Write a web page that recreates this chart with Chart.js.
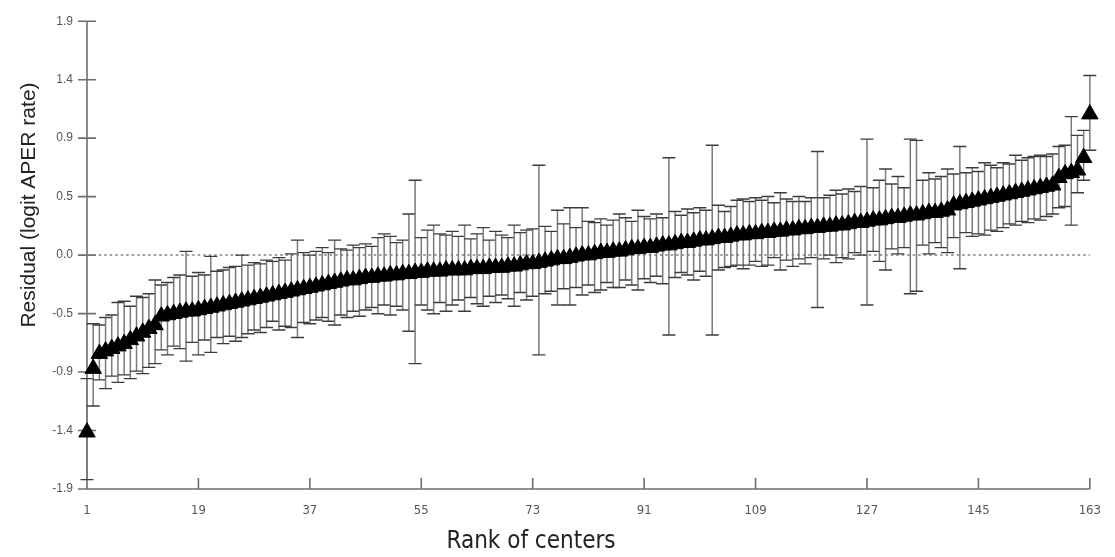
<!DOCTYPE html>
<html>
<head>
<meta charset="utf-8">
<script src="https://cdn.jsdelivr.net/npm/chart.js@4"></script>
<style>
  html, body { margin: 0; padding: 0; background: #fff; }
  #chart { display: block; }
</style>
</head>
<body>
<canvas id="chart" width="1115" height="557"></canvas>
<script>
// residuals of the 163 centers, sorted, with their interval ends
const residual = [
  -1.42, -0.91, -0.79, -0.77, -0.75, -0.73, -0.71, -0.68, -0.65, -0.62,
  -0.59, -0.56, -0.49, -0.48, -0.47, -0.46, -0.45, -0.45, -0.44, -0.43,
  -0.42, -0.41, -0.40, -0.39, -0.38, -0.37, -0.36, -0.35, -0.34, -0.33,
  -0.32, -0.31, -0.30, -0.29, -0.28, -0.27, -0.26, -0.25, -0.24, -0.23,
  -0.22, -0.21, -0.20, -0.20, -0.19, -0.18, -0.18, -0.17, -0.17, -0.16,
  -0.16, -0.15, -0.15, -0.14, -0.14, -0.13, -0.13, -0.13, -0.12, -0.12,
  -0.12, -0.12, -0.11, -0.11, -0.11, -0.10, -0.10, -0.10, -0.09, -0.09,
  -0.08, -0.07, -0.07, -0.06, -0.05, -0.04, -0.03, -0.03, -0.02, -0.01,
  0.00, 0.00, 0.01, 0.02, 0.02, 0.03, 0.03, 0.04, 0.05, 0.05,
  0.06, 0.06, 0.07, 0.08, 0.08, 0.09, 0.10, 0.10, 0.11, 0.12,
  0.12, 0.13, 0.14, 0.14, 0.15, 0.16, 0.16, 0.17, 0.17, 0.18,
  0.18, 0.19, 0.19, 0.20, 0.20, 0.21, 0.21, 0.22, 0.22, 0.23,
  0.23, 0.24, 0.24, 0.25, 0.26, 0.26, 0.27, 0.28, 0.28, 0.29,
  0.30, 0.30, 0.31, 0.32, 0.32, 0.33, 0.34, 0.34, 0.35, 0.36,
  0.40, 0.41, 0.42, 0.43, 0.44, 0.45, 0.46, 0.47, 0.48, 0.49,
  0.50, 0.51, 0.52, 0.53, 0.54, 0.55, 0.56, 0.62, 0.65, 0.66,
  0.68, 0.78, 1.13
];

const lowerCI = [
  -1.80, -1.21, -1.00, -1.07, -0.97, -1.02, -0.96, -0.99, -0.93, -0.95,
  -0.90, -0.87, -0.76, -0.80, -0.73, -0.75, -0.85, -0.70, -0.80, -0.68,
  -0.78, -0.66, -0.71, -0.65, -0.69, -0.66, -0.63, -0.60, -0.62, -0.58,
  -0.53, -0.60, -0.57, -0.58, -0.66, -0.54, -0.55, -0.52, -0.50, -0.53,
  -0.56, -0.48, -0.50, -0.45, -0.49, -0.44, -0.42, -0.47, -0.40, -0.48,
  -0.41, -0.44, -0.61, -0.87, -0.40, -0.44, -0.47, -0.38, -0.45, -0.40,
  -0.36, -0.45, -0.34, -0.39, -0.41, -0.33, -0.38, -0.32, -0.35, -0.41,
  -0.30, -0.36, -0.33, -0.80, -0.31, -0.29, -0.40, -0.27, -0.40, -0.26,
  -0.32, -0.24, -0.30, -0.28, -0.22, -0.26, -0.26, -0.20, -0.24, -0.28,
  -0.19, -0.22, -0.17, -0.23, -0.64, -0.18, -0.14, -0.16, -0.20, -0.13,
  -0.17, -0.64, -0.12, -0.10, -0.09, -0.08, -0.11, -0.08, -0.05, -0.09,
  -0.08, -0.02, -0.12, -0.04, -0.09, -0.03, -0.07, -0.02, -0.42, -0.03,
  0.00, -0.06, -0.02, -0.03, 0.02, 0.00, -0.40, 0.03, -0.05, -0.12,
  0.05, 0.01, 0.06, -0.31, -0.29, 0.08, 0.01, 0.10, 0.06, 0.02,
  0.14, -0.11, 0.18, 0.15, 0.17, 0.16, 0.20, 0.19, 0.22, 0.25,
  0.24, 0.27, 0.26, 0.29, 0.28, 0.31, 0.33, 0.38, 0.39, 0.24,
  0.50, 0.60, 0.84
];

const upperCI = [
  -0.99, -0.55, -0.56, -0.50, -0.48, -0.38, -0.37, -0.41, -0.33, -0.34,
  -0.31, -0.20, -0.24, -0.22, -0.18, -0.16, 0.03, -0.17, -0.14, -0.16,
  -0.01, -0.13, -0.12, -0.10, -0.09, 0.00, -0.08, -0.06, -0.07, -0.04,
  -0.05, -0.02, -0.04, 0.01, 0.12, 0.02, 0.00, 0.03, 0.06, 0.02,
  0.12, 0.05, 0.04, 0.08, 0.06, 0.09, 0.07, 0.14, 0.17, 0.15,
  0.10, 0.12, 0.33, 0.60, 0.14, 0.20, 0.24, 0.17, 0.16, 0.19,
  0.15, 0.24, 0.13, 0.17, 0.22, 0.12, 0.19, 0.16, 0.14, 0.24,
  0.18, 0.20, 0.21, 0.72, 0.23, 0.19, 0.36, 0.25, 0.38, 0.22,
  0.38, 0.27, 0.26, 0.29, 0.24, 0.28, 0.33, 0.30, 0.27, 0.36,
  0.31, 0.29, 0.33, 0.30, 0.78, 0.35, 0.32, 0.37, 0.34, 0.38,
  0.36, 0.88, 0.40, 0.35, 0.39, 0.44, 0.45, 0.43, 0.46, 0.44,
  0.47, 0.42, 0.50, 0.45, 0.43, 0.47, 0.43, 0.46, 0.83, 0.46,
  0.48, 0.52, 0.49, 0.53, 0.51, 0.55, 0.93, 0.54, 0.60, 0.69,
  0.57, 0.63, 0.54, 0.93, 0.92, 0.60, 0.66, 0.61, 0.63, 0.69,
  0.65, 0.87, 0.66, 0.70, 0.67, 0.74, 0.72, 0.70, 0.74, 0.73,
  0.80, 0.76, 0.78, 0.79, 0.80, 0.79, 0.81, 0.87, 0.88, 1.11,
  0.96, 1.00, 1.44
];

const ranks = residual.map((_, i) => i + 1);

const xTicks = [1, 19, 37, 55, 73, 91, 109, 127, 145, 163];
const yTickValues = [-1.875, -1.40625, -0.9375, -0.46875, 0, 0.46875, 0.9375, 1.40625, 1.875];
const yTickLabels = ['-1.9', '-1.4', '-0.9', '-0.5', '0.0', '0.5', '0.9', '1.4', '1.9'];

const xTitle = 'Rank of centers';
const yTitle = 'Residual (logit APER rate)';

const AXIS = '#6e6e6e';
const NARROW = '"Liberation Sans Narrow", "DejaVu Sans Condensed", "Roboto Condensed", sans-serif';
const SANS = '"Liberation Sans", Arial, sans-serif';

const plotDecor = {
  id: 'plotDecor',
  beforeDatasetsDraw(chart) {
    const { ctx, chartArea: a, scales: { x, y } } = chart;
    ctx.save();

    // axis lines
    ctx.strokeStyle = AXIS;
    ctx.lineWidth = 1.6;
    ctx.beginPath();
    ctx.moveTo(a.left, a.top);
    ctx.lineTo(a.left, a.bottom);
    ctx.moveTo(a.left - 7, a.bottom);
    ctx.lineTo(a.right, a.bottom);
    // y ticks cross the axis, x ticks point up
    yTickValues.forEach(v => {
      const py = y.getPixelForValue(v);
      ctx.moveTo(a.left - 9, py);
      ctx.lineTo(a.left + 9, py);
    });
    xTicks.forEach(v => {
      const px = x.getPixelForValue(v);
      ctx.moveTo(px, a.bottom);
      ctx.lineTo(px, a.bottom - 11);
    });
    ctx.stroke();

    // dotted reference line at zero
    const y0 = y.getPixelForValue(0);
    ctx.strokeStyle = '#808080';
    ctx.lineWidth = 1.5;
    ctx.setLineDash([2.5, 3]);
    ctx.beginPath();
    ctx.moveTo(x.getPixelForValue(2), y0);
    ctx.lineTo(x.getPixelForValue(163), y0);
    ctx.stroke();
    ctx.setLineDash([]);

    // error bars
    ranks.forEach((r, i) => {
      const px = x.getPixelForValue(r);
      const lo = y.getPixelForValue(lowerCI[i]);
      const hi = y.getPixelForValue(upperCI[i]);
      ctx.strokeStyle = '#7a7a7a';
      ctx.lineWidth = 1.5;
      ctx.beginPath();
      ctx.moveTo(px, lo);
      ctx.lineTo(px, hi);
      ctx.stroke();
      ctx.strokeStyle = '#3c3c3c';
      ctx.lineWidth = 1.4;
      ctx.beginPath();
      ctx.moveTo(px - 6.5, lo);
      ctx.lineTo(px + 6.5, lo);
      ctx.moveTo(px - 6.5, hi);
      ctx.lineTo(px + 6.5, hi);
      ctx.stroke();
    });
    ctx.restore();
  },
  afterDraw(chart) {
    const { ctx } = chart;
    ctx.save();
    ctx.fillStyle = '#222';
    ctx.textAlign = 'center';
    ctx.textBaseline = 'middle';
    ctx.font = '24px ' + NARROW;
    ctx.fillText(xTitle, 531, 542);

    ctx.translate(29, 205);
    ctx.rotate(-Math.PI / 2);
    ctx.font = '21px ' + SANS;
    ctx.fillText(yTitle, 0, 0);
    ctx.restore();
  }
};

new Chart(document.getElementById('chart'), {
  type: 'scatter',
  data: {
    datasets: [{
      label: 'Residual',
      data: ranks.map((r, i) => ({ x: r, y: residual[i] })),
      clip: false,
      pointStyle: 'triangle',
      pointRadius: 9.5,
      pointHoverRadius: 9.5,
      backgroundColor: '#000',
      borderColor: '#000',
      borderWidth: 1
    }]
  },
  options: {
    responsive: false,
    devicePixelRatio: 1,
    animation: false,
    layout: { padding: { top: 14, right: 20, left: 0, bottom: 0 } },
    plugins: {
      legend: { display: false },
      tooltip: { enabled: false }
    },
    scales: {
      x: {
        type: 'linear',
        min: 1,
        max: 163,
        afterBuildTicks: (axis) => { axis.ticks = xTicks.map(v => ({ value: v })); },
        afterFit: (s) => { s.height = 68; },
        grid: { display: false, drawTicks: false },
        border: { display: false },
        ticks: {
          autoSkip: false,
          maxRotation: 0,
          padding: 14,
          color: '#555',
          font: { family: NARROW, size: 13 },
          callback: (v) => String(v)
        }
      },
      y: {
        min: -1.875,
        max: 1.875,
        afterBuildTicks: (axis) => { axis.ticks = yTickValues.map(v => ({ value: v })); },
        afterFit: (s) => { s.width = 87; },
        grid: { display: false, drawTicks: false },
        border: { display: false },
        ticks: {
          padding: 14,
          color: '#555',
          font: { family: SANS, size: 12 },
          callback: (v, i) => yTickLabels[i]
        }
      }
    }
  },
  plugins: [plotDecor]
});
</script>
</body>
</html>
